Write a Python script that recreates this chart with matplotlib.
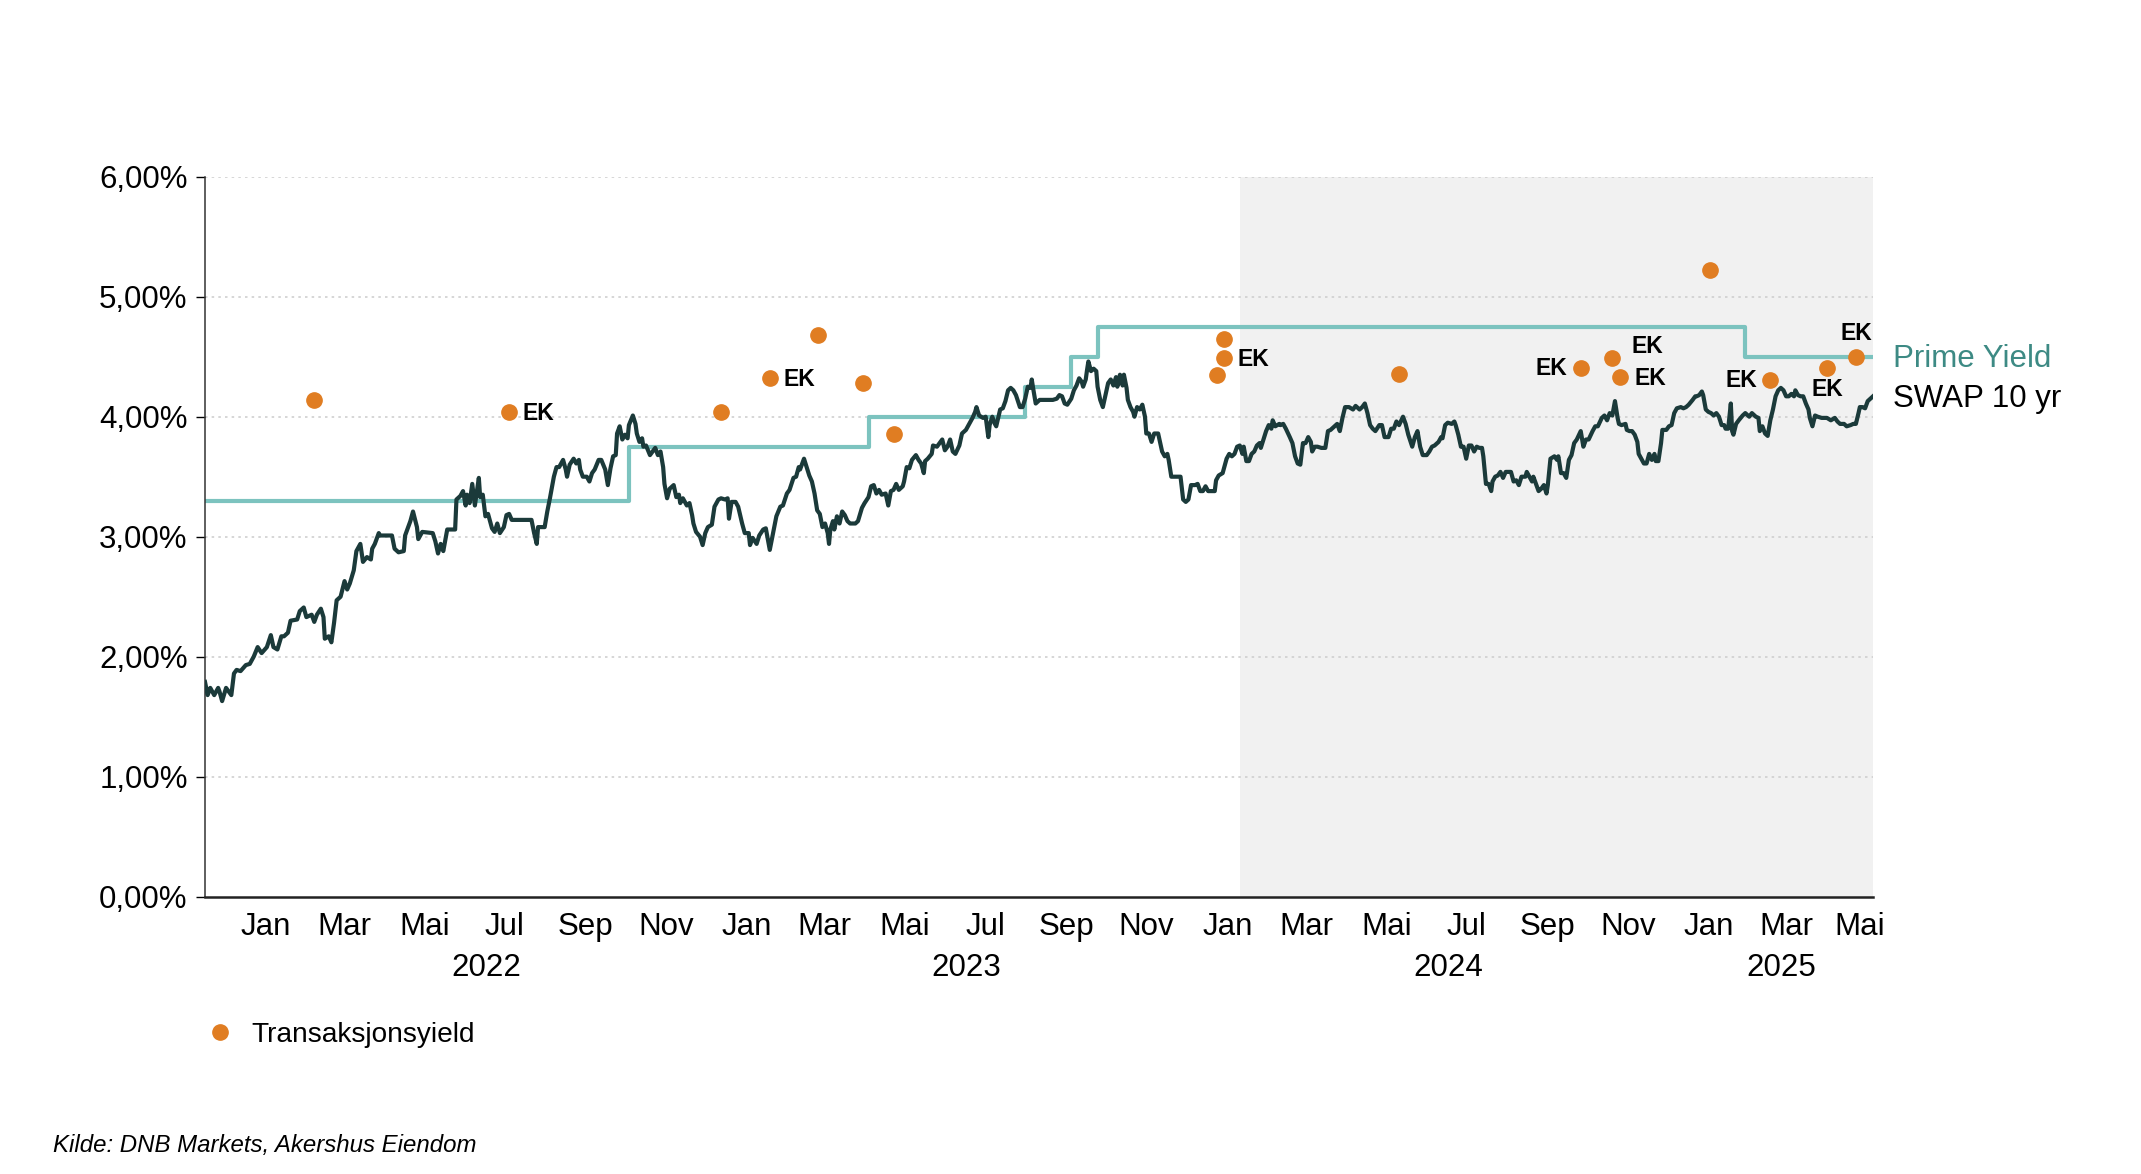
import pandas as pd
import numpy as np
import matplotlib.pyplot as plt
import matplotlib.dates as mdates
from matplotlib.lines import Line2D
from matplotlib.transforms import blended_transform_factory

plt.rcParams["font.family"] = ["Liberation Sans", "DejaVu Sans"]

# Data
X_START = "2021-12-01"
X_END = "2025-05-21"
SHADE_START = "2024-01-26"

# SWAP 10 yr: days after X_START, value in %
swap_day = [
    0, 2, 4, 7, 10, 11, 13, 16, 18, 20, 22, 24, 27, 31, 34, 37, 40, 43, 47, 50,
    52, 55, 58, 60, 63, 65, 70, 72, 75, 77, 81, 83, 85, 88, 90, 91, 94, 96, 98, 100,
    103, 106, 108, 110, 113, 115, 118, 120, 123, 126, 127, 129, 132, 133, 142, 144, 147, 151, 152, 156,
    158, 161, 162, 165, 173, 175, 177, 179, 181, 184, 187, 190, 191, 194, 196, 198, 199, 201, 203, 205,
    208, 209, 211, 213, 215, 218, 220, 222, 224, 227, 229, 231, 233, 248, 250, 252, 253, 256, 258, 260,
    262, 265, 267, 269, 272, 274, 275, 277, 280, 282, 284, 285, 287, 290, 292, 294, 296, 299, 301, 304,
    306, 308, 310, 312, 313, 315, 317, 319, 321, 322, 325, 327, 328, 330, 332, 333, 335, 338, 340, 342,
    344, 346, 348, 349, 351, 353, 356, 358, 360, 361, 363, 366, 368, 370, 371, 373, 376, 378, 380, 382,
    385, 387, 390, 392, 395, 397, 398, 400, 403, 405, 408, 410, 413, 414, 416, 419, 421, 424, 426, 429,
    432, 434, 437, 439, 442, 444, 447, 449, 451, 452, 455, 457, 459, 461, 463, 465, 467, 469, 471, 473,
    474, 475, 477, 478, 480, 482, 484, 486, 488, 490, 494, 496, 499, 501, 504, 506, 508, 510, 512, 514,
    517, 519, 521, 523, 525, 527, 530, 531, 533, 535, 537, 540, 542, 544, 546, 547, 549, 552, 553, 556,
    558, 560, 562, 564, 566, 568, 570, 573, 575, 578, 580, 583, 585, 586, 588, 591, 593, 595, 596, 598,
    600, 601, 604, 606, 608, 610, 612, 614, 616, 619, 621, 623, 625, 627, 628, 629, 631, 634, 639, 644,
    647, 649, 651, 653, 655, 658, 660, 662, 664, 666, 667, 669, 670, 671, 673, 675, 677, 678, 680, 682,
    684, 686, 688, 690, 692, 693, 695, 697, 698, 700, 701, 703, 705, 706, 708, 710, 712, 714, 715, 717,
    719, 721, 724, 725, 727, 729, 731, 732, 734, 736, 741, 743, 745, 747, 749, 752, 754, 756, 758, 760,
    762, 765, 767, 768, 770, 773, 776, 778, 780, 782, 784, 786, 788, 789, 791, 793, 795, 797, 799, 801,
    802, 804, 806, 808, 810, 811, 813, 816, 817, 819, 821, 824, 826, 828, 830, 832, 834, 836, 838, 840,
    841, 843, 845, 848, 851, 853, 855, 858, 860, 862, 864, 866, 869, 872, 874, 877, 879, 881, 883, 885,
    887, 889, 892, 894, 896, 899, 901, 903, 905, 907, 910, 912, 914, 917, 919, 921, 923, 925, 928, 930,
    932, 934, 937, 939, 940, 942, 944, 947, 949, 950, 952, 954, 956, 958, 960, 962, 964, 966, 968, 970,
    971, 973, 975, 977, 978, 980, 982, 984, 986, 988, 990, 992, 994, 996, 998, 1000, 1003, 1004, 1006, 1008,
    1009, 1011, 1013, 1015, 1017, 1019, 1020, 1022, 1025, 1027, 1028, 1030, 1032, 1034, 1036, 1038, 1040, 1042, 1045, 1047,
    1049, 1051, 1054, 1056, 1058, 1061, 1063, 1065, 1067, 1069, 1071, 1073, 1074, 1076, 1079, 1080, 1082, 1084, 1086, 1088,
    1089, 1091, 1093, 1095, 1097, 1099, 1101, 1102, 1104, 1106, 1107, 1110, 1112, 1114, 1116, 1118, 1121, 1123, 1125, 1127,
    1130, 1132, 1133, 1135, 1137, 1138, 1140, 1142, 1144, 1146, 1148, 1150, 1152, 1154, 1155, 1157, 1159, 1160, 1161, 1163,
    1165, 1168, 1170, 1173, 1175, 1178, 1180, 1181, 1183, 1185, 1187, 1189, 1191, 1193, 1195, 1197, 1199, 1201, 1203, 1205,
    1207, 1208, 1210, 1212, 1214, 1216, 1218, 1219, 1221, 1223, 1225, 1228, 1232, 1235, 1238, 1240, 1242, 1245, 1247, 1250,
    1252, 1254, 1256, 1257, 1259, 1261, 1263, 1265, 1267,
]
swap_val = [
    1.79, 1.68, 1.74, 1.68, 1.74, 1.71, 1.63, 1.74, 1.71, 1.68, 1.86, 1.89, 1.88, 1.93, 1.94, 2.00, 2.08, 2.03, 2.08, 2.18,
    2.08, 2.06, 2.17, 2.17, 2.20, 2.30, 2.31, 2.38, 2.41, 2.33, 2.35, 2.29, 2.35, 2.40, 2.33, 2.15, 2.17, 2.12, 2.28, 2.47,
    2.50, 2.63, 2.56, 2.61, 2.72, 2.88, 2.94, 2.79, 2.83, 2.81, 2.90, 2.94, 3.03, 3.01, 3.01, 2.90, 2.87, 2.88, 3.01, 3.13,
    3.21, 3.08, 2.98, 3.04, 3.03, 2.96, 2.86, 2.94, 2.88, 3.06, 3.06, 3.06, 3.31, 3.34, 3.38, 3.26, 3.35, 3.28, 3.44, 3.26,
    3.49, 3.33, 3.35, 3.17, 3.19, 3.07, 3.04, 3.11, 3.03, 3.08, 3.18, 3.19, 3.14, 3.14, 3.03, 2.94, 3.08, 3.08, 3.08, 3.21,
    3.32, 3.50, 3.58, 3.58, 3.64, 3.56, 3.50, 3.60, 3.65, 3.61, 3.64, 3.56, 3.50, 3.50, 3.46, 3.53, 3.56, 3.64, 3.64, 3.56,
    3.43, 3.57, 3.67, 3.68, 3.86, 3.92, 3.81, 3.85, 3.82, 3.93, 4.01, 3.94, 3.86, 3.79, 3.82, 3.75, 3.76, 3.68, 3.71, 3.74,
    3.68, 3.71, 3.58, 3.44, 3.32, 3.40, 3.43, 3.33, 3.35, 3.28, 3.32, 3.26, 3.28, 3.18, 3.11, 3.04, 3.00, 2.93, 3.03, 3.08,
    3.10, 3.25, 3.31, 3.32, 3.31, 3.32, 3.15, 3.29, 3.29, 3.25, 3.11, 3.03, 3.03, 2.93, 2.99, 2.94, 3.01, 3.06, 3.07, 2.89,
    3.06, 3.17, 3.25, 3.26, 3.36, 3.39, 3.49, 3.50, 3.58, 3.56, 3.65, 3.58, 3.51, 3.46, 3.36, 3.22, 3.19, 3.08, 3.11, 3.03,
    2.94, 3.06, 3.13, 3.06, 3.17, 3.11, 3.21, 3.18, 3.13, 3.11, 3.11, 3.13, 3.24, 3.28, 3.33, 3.42, 3.43, 3.36, 3.39, 3.35,
    3.36, 3.26, 3.38, 3.39, 3.44, 3.39, 3.42, 3.46, 3.58, 3.57, 3.64, 3.68, 3.64, 3.61, 3.53, 3.63, 3.65, 3.69, 3.76, 3.75,
    3.78, 3.81, 3.72, 3.75, 3.81, 3.71, 3.69, 3.76, 3.86, 3.89, 3.93, 3.99, 4.04, 4.08, 4.01, 3.99, 4.00, 3.83, 3.93, 4.00,
    3.94, 3.92, 4.06, 4.07, 4.13, 4.22, 4.24, 4.22, 4.18, 4.08, 4.08, 4.15, 4.25, 4.24, 4.31, 4.24, 4.11, 4.14, 4.14, 4.14,
    4.15, 4.18, 4.17, 4.11, 4.10, 4.15, 4.22, 4.26, 4.32, 4.29, 4.25, 4.31, 4.39, 4.46, 4.38, 4.40, 4.38, 4.25, 4.14, 4.08,
    4.18, 4.28, 4.31, 4.26, 4.33, 4.25, 4.35, 4.26, 4.35, 4.24, 4.14, 4.08, 4.04, 4.00, 4.08, 4.06, 4.10, 4.00, 3.86, 3.86,
    3.79, 3.86, 3.86, 3.81, 3.71, 3.67, 3.69, 3.64, 3.50, 3.50, 3.50, 3.31, 3.29, 3.31, 3.43, 3.43, 3.44, 3.38, 3.38, 3.42,
    3.38, 3.38, 3.38, 3.47, 3.51, 3.53, 3.65, 3.69, 3.67, 3.69, 3.75, 3.76, 3.69, 3.75, 3.63, 3.63, 3.69, 3.71, 3.76, 3.78,
    3.74, 3.81, 3.88, 3.93, 3.90, 3.97, 3.92, 3.94, 3.93, 3.94, 3.90, 3.83, 3.78, 3.67, 3.61, 3.60, 3.78, 3.78, 3.83, 3.79,
    3.71, 3.75, 3.75, 3.74, 3.74, 3.88, 3.89, 3.92, 3.94, 3.88, 3.99, 4.08, 4.08, 4.06, 4.09, 4.06, 4.08, 4.11, 4.03, 3.93,
    3.90, 3.88, 3.93, 3.93, 3.83, 3.83, 3.90, 3.90, 3.96, 3.93, 4.00, 3.94, 3.85, 3.75, 3.83, 3.88, 3.75, 3.68, 3.68, 3.71,
    3.75, 3.76, 3.79, 3.83, 3.82, 3.93, 3.95, 3.94, 3.96, 3.93, 3.85, 3.75, 3.75, 3.65, 3.76, 3.76, 3.71, 3.75, 3.74, 3.74,
    3.67, 3.44, 3.44, 3.38, 3.46, 3.50, 3.51, 3.54, 3.49, 3.54, 3.54, 3.54, 3.46, 3.47, 3.43, 3.50, 3.50, 3.54, 3.50, 3.46,
    3.50, 3.44, 3.38, 3.40, 3.43, 3.36, 3.43, 3.65, 3.67, 3.64, 3.67, 3.53, 3.53, 3.49, 3.64, 3.68, 3.78, 3.81, 3.88, 3.75,
    3.81, 3.81, 3.88, 3.92, 3.92, 3.99, 4.01, 3.97, 4.03, 4.01, 4.13, 3.99, 3.94, 3.93, 3.94, 3.89, 3.88, 3.88, 3.85, 3.79,
    3.69, 3.65, 3.61, 3.61, 3.69, 3.64, 3.69, 3.63, 3.63, 3.78, 3.89, 3.89, 3.92, 3.93, 4.03, 4.07, 4.08, 4.07, 4.08, 4.10,
    4.14, 4.17, 4.17, 4.18, 4.21, 4.18, 4.06, 4.04, 4.03, 4.01, 4.03, 4.00, 3.93, 3.93, 3.90, 3.90, 4.11, 3.88, 3.85, 3.94,
    3.97, 4.01, 4.03, 4.00, 4.03, 4.00, 3.99, 3.88, 3.92, 3.86, 3.84, 3.97, 4.06, 4.17, 4.22, 4.24, 4.22, 4.17, 4.17, 4.19,
    4.17, 4.22, 4.18, 4.17, 4.17, 4.11, 4.06, 3.99, 3.92, 4.01, 4.00, 3.99, 3.99, 3.97, 3.99, 3.96, 3.94, 3.94, 3.92, 3.93,
    3.94, 3.94, 4.03, 4.08, 4.08, 4.07, 4.13, 4.15, 4.17,
]

# Prime Yield (step changes)
prime_date = ["2021-12-01", "2022-10-19", "2023-04-19", "2023-08-16",
              "2023-09-20", "2023-10-10", "2025-02-13", "2025-05-21"]
prime_val = [3.30, 3.75, 4.00, 4.25, 4.50, 4.75, 4.50, 4.50]

# Transaksjonsyield
txn_date = ["2022-02-22", "2022-07-20", "2022-12-28", "2023-02-03", "2023-03-12",
            "2023-04-15", "2023-05-08", "2024-01-09", "2024-01-14", "2024-01-14",
            "2024-05-26", "2024-10-11", "2024-11-04", "2024-11-10", "2025-01-17",
            "2025-03-04", "2025-04-16", "2025-05-08"]
txn_val = [4.14, 4.04, 4.04, 4.32, 4.68, 4.28, 3.86, 4.35, 4.65, 4.49,
           4.36, 4.41, 4.49, 4.33, 5.22, 4.31, 4.41, 4.50]
txn_label = ["", "EK", "", "EK", "", "", "", "", "", "EK",
             "", "EK", "EK", "EK", "", "EK", "EK", "EK"]

month_names = ["Jan", "Feb", "Mar", "Apr", "Mai", "Jun",
               "Jul", "Aug", "Sep", "Okt", "Nov", "Des"]
y_ticks = [0, 1, 2, 3, 4, 5, 6]

# Colours
SWAP_COLOR = "#1b3a3a"
PRIME_COLOR = "#7cc3bf"
PRIME_TEXT = "#3d8a84"
DOT_COLOR = "#e07d22"
SHADE_COLOR = "#f1f1f1"

# where each EK label sits relative to its dot (offset points, ha)
EK_PLACE = {
    1: ((10, -1), "left"), 3: ((10, -1), "left"), 9: ((10, -1), "left"),
    11: ((-9.5, -1), "right"), 12: ((14, 8), "left"), 13: ((10, -1), "left"),
    15: ((-9.5, -1), "right"), 16: ((0, -16), "center"), 17: ((0, 17), "center"),
}

x0 = pd.Timestamp(X_START)
x1 = pd.Timestamp(X_END)
swap_dates = x0 + pd.to_timedelta(swap_day, unit="D")
prime_dates = pd.to_datetime(prime_date)
txn_dates = pd.to_datetime(txn_date)

fig = plt.figure(figsize=(21.41, 11.74), dpi=100)
ax = fig.add_axes([205 / 2141, 1 - 896.7 / 1174, 1668 / 2141, 720 / 1174])

ax.axvspan(pd.Timestamp(SHADE_START), x1, color=SHADE_COLOR, lw=0, zorder=0)

for t in y_ticks[1:]:
    ax.axhline(t, color="#cfcfcf", lw=1.2, ls=(0, (1.5, 2.5)), zorder=1)

ax.step(prime_dates, prime_val, where="post", color=PRIME_COLOR, lw=3.0, zorder=2)
ax.plot(swap_dates, swap_val, color=SWAP_COLOR, lw=3.0, zorder=3)
ax.plot(txn_dates, txn_val, ls="none", marker="o", ms=11,
        color=DOT_COLOR, zorder=4)

for i, lab in enumerate(txn_label):
    if not lab:
        continue
    off, ha = EK_PLACE[i]
    ax.annotate(lab, (txn_dates[i], txn_val[i]), xytext=off,
                textcoords="offset points", ha=ha, va="center",
                fontsize=16.5, fontweight="bold", color="black", zorder=5)

ax.set_xlim(x0, x1)
ax.set_ylim(0, 6)
ax.set_yticks(y_ticks)
ax.set_yticklabels([f"{t},00%" for t in y_ticks])
ax.tick_params(axis="y", length=6.5, width=1, pad=6, labelsize=22.5)
ax.set_xticks([])

for s in ["top", "right"]:
    ax.spines[s].set_visible(False)
ax.spines["left"].set_linewidth(1.1)
ax.spines["left"].set_color("#333333")
ax.spines["bottom"].set_linewidth(1.8)
ax.spines["bottom"].set_color("#222222")
ax.spines["bottom"].set_zorder(6)

# month labels (every 2nd month, centred on visible part of month)
trans = blended_transform_factory(ax.transData, ax.transAxes)
m = pd.Timestamp(x0.year, x0.month, 1)
while m < x1:
    nxt = m + pd.offsets.MonthBegin(1)
    if m.month % 2 == 1:
        a = max(m, x0)
        b = min(nxt, x1)
        mid = a + (b - a) / 2
        ax.text(mid, -0.0532, month_names[m.month - 1], transform=trans,
                ha="center", va="baseline", fontsize=22.5)
    m = nxt

for yr in range(x0.year + 1, x1.year + 1):
    a = max(pd.Timestamp(yr, 1, 1), x0)
    b = min(pd.Timestamp(yr + 1, 1, 1), x1)
    mid = a + (b - a) / 2
    ax.text(mid, -0.110, str(yr), transform=trans,
            ha="center", va="baseline", fontsize=22.5)

# series labels on the right
trans_r = blended_transform_factory(ax.transAxes, ax.transData)
ax.text(1.012, 4.417, "Prime Yield", transform=trans_r, ha="left",
        va="baseline", fontsize=22.5, color=PRIME_TEXT, clip_on=False)
ax.text(1.012, 4.083, "SWAP 10 yr", transform=trans_r, ha="left",
        va="baseline", fontsize=22.5, color="black", clip_on=False)

# legend
fig.add_artist(Line2D([220 / 2141], [1 - 1032 / 1174], marker="o", ms=11,
                      color=DOT_COLOR, ls="none", transform=fig.transFigure))
fig.text(251 / 2141, 1 - 1042 / 1174, "Transaksjonsyield", fontsize=20.2,
         va="baseline", ha="left")

fig.text(53 / 2141, 1 - 1151.7 / 1174, "Kilde: DNB Markets, Akershus Eiendom",
         fontsize=17.3, style="italic", va="baseline", ha="left")

fig.savefig("out.png", dpi=100, facecolor="white")
